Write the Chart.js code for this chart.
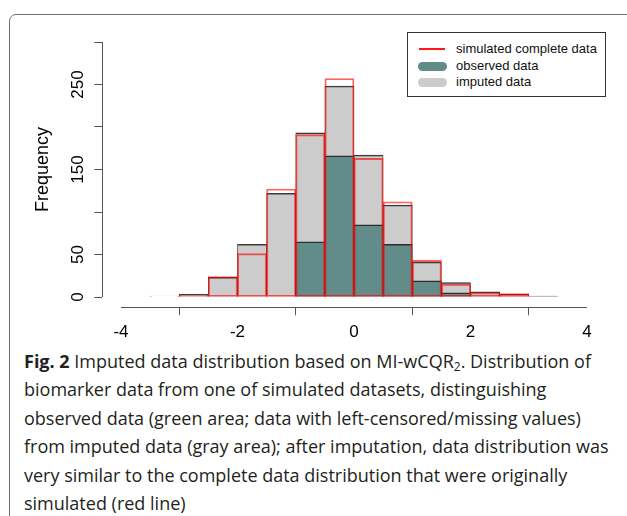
<!DOCTYPE html>
<html>
<head>
<meta charset="utf-8">
<title>Imputed data distribution</title>
<script src="https://cdn.jsdelivr.net/npm/chart.js@4.4.1/dist/chart.umd.min.js"></script>
<style>
    body {
        margin: 0;
        width: 627px;
        height: 516px;
        overflow: hidden;
        position: relative;
        background: #fff;
        font-family: "Liberation Sans", Arial, sans-serif;
    }
    #frame {
        position: absolute;
        left: 9px;
        top: 14px;
        width: 660px;
        height: 560px;
        border: 1.5px solid #6f6f6f;
        border-radius: 7px;
    }
    #wrap {
        position: absolute;
        left: 0;
        top: 0;
        width: 627px;
        height: 345px;
    }
    #legend {
        position: absolute;
        left: 407px;
        top: 32px;
        width: 197px;
        height: 63px;
        border: 1px solid #333;
        background: #fff;
        font-size: 13px;
        color: #111;
    }
    .item {
        position: absolute;
        left: 10px;
        height: 16px;
        line-height: 16px;
        white-space: nowrap;
    }
    .item span.sym {
        position: absolute;
        left: 0;
        top: 4px;
        width: 29px;
        height: 9px;
        border-radius: 5px;
    }
    .item span.txt {
        position: absolute;
        left: 38px;
        top: 0;
    }
    #caption {
        position: absolute;
        left: 24px;
        top: 347px;
        font-family: "Open Sans", sans-serif;
        font-size: 18px;
        line-height: 28.4px;
        color: #231f20;
        white-space: nowrap;
    }
    #caption b { font-weight: 700; }
    #caption sub { font-size: 12px; vertical-align: -3px; line-height: 0; }
</style>
</head>
<body>
<div id="frame"></div>
<div id="wrap"><canvas id="histChart" width="627" height="345"></canvas></div>

<div id="legend">
    <div class="item" style="top:8px"><span class="sym" style="top:7px;height:2px;border-radius:0;width:26px;left:1px;background:#ff1a1a"></span><span class="txt">simulated complete data</span></div>
    <div class="item" style="top:25px"><span class="sym" style="background:#618c89"></span><span class="txt">observed data</span></div>
    <div class="item" style="top:41px"><span class="sym" style="background:#cccccc"></span><span class="txt">imputed data</span></div>
</div>

<div id="caption">
    <b>Fig. 2</b> Imputed data distribution based on MI-wCQR<sub>2</sub>. Distribution of<br>
    biomarker data from one of simulated datasets, distinguishing<br>
    observed data (green area; data with left-censored/missing values)<br>
    from imputed data (gray area); after imputation, data distribution was<br>
    very similar to the complete data distribution that were originally<br>
    simulated (red line)
</div>

<script>
// ===== DATA (histogram bins of width 0.5, from -3.5 to 3.5) =====
const binCenters = [-3.25, -2.75, -2.25, -1.75, -1.25, -0.75, -0.25, 0.25, 0.75, 1.25, 1.75, 2.25, 2.75, 3.25];
const completeCounts = [1, 2, 24, 51, 127, 191, 257, 163, 112, 43, 15, 5, 4, 0];
const imputedCounts = [0, 3, 23, 62, 122, 193, 248, 167, 108, 41, 17, 6, 3, 1];
const observedCounts = [0, 0, 0, 0, 0, 65, 166, 85, 62, 19, 5, 0, 0, 0];

const xTicks = [-4, -2, 0, 2, 4];
const yTicks = [0, 50, 100, 150, 200, 250, 300];
const yTickLabels = ["0", "50", "", "150", "", "250", ""];

const toPoints = counts => binCenters.map((x, i) => ({ x: x, y: counts[i] }));

// R style axes: lines only span the tick range
const rAxes = {
    id: "rAxes",
    afterDraw(chart) {
        const { ctx, chartArea, scales } = chart;
        const x = scales.x, y = scales.y;
        ctx.save();
        ctx.strokeStyle = "#555";
        ctx.lineWidth = 1;
        ctx.beginPath();
        const left = Math.round(chartArea.left) + 0.5;
        ctx.moveTo(left, y.getPixelForValue(yTicks[0]));
        ctx.lineTo(left, y.getPixelForValue(yTicks[yTicks.length - 1]));
        const bottom = Math.round(chartArea.bottom) + 0.5;
        ctx.moveTo(x.getPixelForValue(xTicks[0]), bottom);
        ctx.lineTo(x.getPixelForValue(xTicks[xTicks.length - 1]), bottom);
        ctx.stroke();
        ctx.restore();
    }
};

const barCommon = {
    grouped: false,
    barPercentage: 1,
    categoryPercentage: 1,
    borderSkipped: false
};

new Chart(document.getElementById("histChart"), {
    type: "bar",
    data: {
        datasets: [
            Object.assign({
                label: "simulated complete data",
                data: toPoints(completeCounts),
                backgroundColor: "rgba(0,0,0,0)",
                borderColor: "rgba(255,0,0,0.62)",
                borderWidth: 1.2,
                order: 0
            }, barCommon),
            Object.assign({
                label: "observed data",
                data: toPoints(observedCounts),
                backgroundColor: "#618c89",
                borderColor: "#2e2e2e",
                borderWidth: { top: 1.5, left: 0.8, right: 0.8, bottom: 0 },
                order: 1
            }, barCommon),
            Object.assign({
                label: "imputed data",
                data: toPoints(imputedCounts),
                backgroundColor: "#cccccc",
                borderColor: "#3a3a3a",
                borderWidth: { top: 1.5, left: 0.8, right: 0.8, bottom: 0 },
                order: 2
            }, barCommon)
        ]
    },
    options: {
        responsive: false,
        animation: false,
        devicePixelRatio: 1,
        layout: { padding: { left: 0, right: 21.3, top: 31.8, bottom: 0 } },
        plugins: {
            legend: { display: false },
            tooltip: { enabled: false }
        },
        scales: {
            x: {
                type: "linear",
                min: -4.32,
                max: 4.32,
                offset: false,
                afterBuildTicks: s => { s.ticks = xTicks.map(v => ({ value: v })); },
                afterFit: s => { s.height = 37.8; },
                grid: { drawOnChartArea: false, drawTicks: true, tickLength: 8, color: "#555" },
                border: { display: false },
                ticks: {
                    color: "#000",
                    padding: 7,
                    maxRotation: 0,
                    font: { family: "Liberation Sans", size: 17 }
                }
            },
            y: {
                min: -12,
                max: 312,
                afterBuildTicks: s => { s.ticks = yTicks.map(v => ({ value: v })); },
                afterFit: s => { s.width = 102.3; },
                grid: { drawOnChartArea: false, drawTicks: true, tickLength: 8, color: "#555" },
                border: { display: false },
                ticks: {
                    color: "#000",
                    padding: 2,
                    minRotation: 90,
                    maxRotation: 90,
                    crossAlign: "center",
                    font: { family: "Liberation Sans", size: 17 },
                    callback: (v, i) => yTickLabels[i]
                },
                title: {
                    display: true,
                    text: "Frequency",
                    color: "#000",
                    font: { family: "Liberation Sans", size: 18 },
                    padding: { top: 32, bottom: 0 }
                }
            }
        }
    },
    plugins: [rAxes]
});
</script>
</body>
</html>
